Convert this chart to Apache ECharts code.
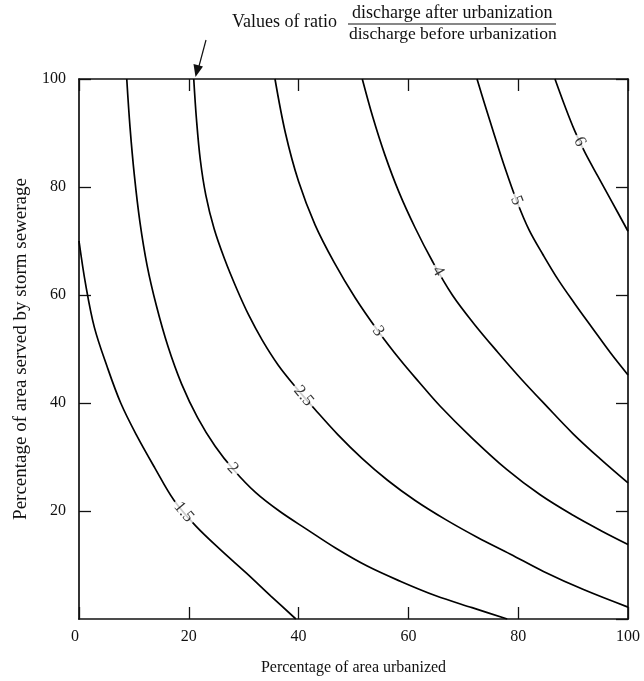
<!DOCTYPE html>
<html>
<head>
<meta charset="utf-8">
<script src="https://cdn.jsdelivr.net/npm/echarts@6/dist/echarts.min.js"></script>
<style>
html,body{margin:0;padding:0;background:#fff;}
#chart{width:644px;height:681px;}
</style>
</head>
<body>
<div id="chart"></div>
<script>
// Contour values
var curveValues = ['1.5', '2', '2.5', '3', '4', '5', '6'];

// Contour lines: [percentage urbanized, percentage sewered]
var curve15 = [[0,70],[1.2,62],[2.8,54],[5.1,46.8],[7.6,40],[10.5,34],[13.8,28],[17.3,22],[21.3,17.2],[25.8,12.8],[30.5,8.5],[35,4.2],[39.5,0]];
var curve2 = [[8.7,100],[9.3,91],[10.1,82],[11.1,73.5],[12.4,65.5],[14.1,58],[16.2,50.5],[18.7,43.5],[21.6,37.3],[24.8,32],[28.2,27.6],[32.2,23.4],[36.6,19.9],[41.5,16.6],[46.8,13.1],[52.5,9.8],[58.5,7],[65,4.3],[71.6,2.1],[78,0]];
var curve25 = [[20.9,100],[21.4,92.5],[22.1,85],[23.1,78.5],[24.6,72.3],[26.5,66.7],[28.7,61.2],[30.9,56.3],[33.4,51.6],[36.3,47],[39.5,42.9],[43,38.8],[47.1,34.2],[51.5,29.8],[56.2,25.7],[61.3,21.9],[66.8,18.4],[72.6,15.1],[78.6,12],[84.6,8.8],[92,5.4],[100,2.2]];
var curve3 = [[35.7,100],[37.6,90],[40,81],[43,73],[46.5,66],[50.3,59.5],[54.5,53.3],[58.5,48],[62,43.8],[65.8,39.4],[71.5,33.6],[77.9,27.7],[84,23],[90,19.2],[95,16.4],[100,13.8]];
var curve4 = [[51.6,100],[53.5,93],[55.7,86],[58.3,79],[61.2,72.5],[64.4,66.2],[68,60],[72,54.6],[76.2,49.5],[80.5,44.5],[85,39.6],[90,34.3],[95,29.6],[100,25.2]];
var curve5 = [[72.5,100],[74,95],[75.7,89.5],[77.6,83.5],[79.7,77.5],[82,72],[84.5,67.5],[87.3,62.8],[90.3,58.4],[93.5,53.9],[96.8,49.3],[100,45.2]];
var curve6 = [[86.7,100],[88.5,95],[90.3,90.4],[92.2,86.3],[94.5,82],[97.1,77.2],[100,71.8]];
var curves = [curve15, curve2, curve25, curve3, curve4, curve5, curve6];

// Where each contour value is written on its line
var labelPoints = [[19.1,19.8],[28,27.9],[40.9,41.3],[54.5,53.3],[65.4,64.4],[79.7,77.5],[91.2,88.4]];
var labelAngles = [-50, -47, -50, -55, -60, -68, -63];

// Axis ticks
var xTicks = [0, 20, 40, 60, 80, 100];
var yTicks = [0, 20, 40, 60, 80, 100];

var SERIF = '"Liberation Serif", "DejaVu Serif", serif';
var chart = echarts.init(document.getElementById('chart'));

var series = [];
curves.forEach(function (c, i) {
  series.push({
    type: 'line',
    name: curveValues[i],
    data: c,
    showSymbol: false,
    smooth: 0.35,
    clip: true,
    lineStyle: {color: '#000', width: 1.7},
    z: 2,
    silent: true
  });
});

function labelStyle(angle) {
  return {
    show: true,
    position: 'inside',
    formatter: '{b}',
    rotate: angle,
    color: '#000',
    textBorderWidth: 0,
    textBorderColor: 'transparent',
    fontFamily: SERIF,
    fontSize: 17,
    backgroundColor: '#fff',
    padding: [0, 3, 0, 3]
  };
}

series.push({
  type: 'scatter',
  symbolSize: 1,
  itemStyle: {color: 'rgba(0,0,0,0)'},
  z: 10,
  silent: true,
  label: labelStyle(0),
  data: labelPoints.map(function (p, i) {
    return {
      name: curveValues[i],
      value: p,
      label: labelStyle(labelAngles[i])
    };
  })
});

var axisCommon = {
  type: 'value',
  min: xTicks[0],
  max: xTicks[xTicks.length - 1],
  interval: xTicks[1] - xTicks[0],
  axisLine: {show: true, onZero: false, lineStyle: {color: '#111', width: 1.7}},
  axisTick: {show: true, inside: true, length: 12, lineStyle: {color: '#111', width: 1.3}},
  splitLine: {show: false}
};

var option = {
  backgroundColor: '#fff',
  animation: false,
  grid: {left: 79, right: 16, top: 79, bottom: 59, containLabel: false},
  xAxis: [
    Object.assign({}, axisCommon, {
      position: 'bottom',
      name: 'Percentage of area urbanized',
      nameLocation: 'middle',
      nameGap: 41,
      nameTextStyle: {fontFamily: SERIF, fontSize: 16, color: '#111'},
      axisLabel: {show: true, margin: 10, fontFamily: SERIF, fontSize: 16, color: '#111', alignMinLabel: 'right'}
    }),
    Object.assign({}, axisCommon, {
      position: 'top',
      axisLabel: {show: false}
    })
  ],
  yAxis: [
    Object.assign({}, axisCommon, {
      min: yTicks[0], max: yTicks[yTicks.length - 1], interval: yTicks[1] - yTicks[0],
      position: 'left',
      name: 'Percentage of area served by storm sewerage',
      nameLocation: 'middle',
      nameRotate: 90,
      nameGap: 48,
      nameTextStyle: {fontFamily: SERIF, fontSize: 19, color: '#111'},
      axisLabel: {show: true, margin: 13, fontFamily: SERIF, fontSize: 16, color: '#111', showMinLabel: false}
    }),
    Object.assign({}, axisCommon, {
      min: yTicks[0], max: yTicks[yTicks.length - 1], interval: yTicks[1] - yTicks[0],
      position: 'right',
      axisLabel: {show: false}
    })
  ],
  series: series,
  graphic: [
    {type: 'text', left: 232, top: 13, style: {text: 'Values of ratio', font: '18px ' + SERIF, fill: '#111'}},
    {type: 'text', left: 352, top: 4, style: {text: 'discharge after urbanization', font: '18px ' + SERIF, fill: '#111'}},
    {type: 'line', shape: {x1: 348, y1: 24, x2: 556, y2: 24}, style: {stroke: '#111', lineWidth: 1.2}},
    {type: 'text', left: 349, top: 25, style: {text: 'discharge before urbanization', font: '17.5px ' + SERIF, fill: '#111'}},
    {type: 'line', shape: {x1: 206, y1: 40, x2: 198.5, y2: 68}, style: {stroke: '#111', lineWidth: 1.2}},
    {type: 'polygon', shape: {points: [[195.5, 77], [193.5, 64], [203, 66.5]]}, style: {fill: '#111'}}
  ]
};
chart.setOption(option);
</script>
</body>
</html>
